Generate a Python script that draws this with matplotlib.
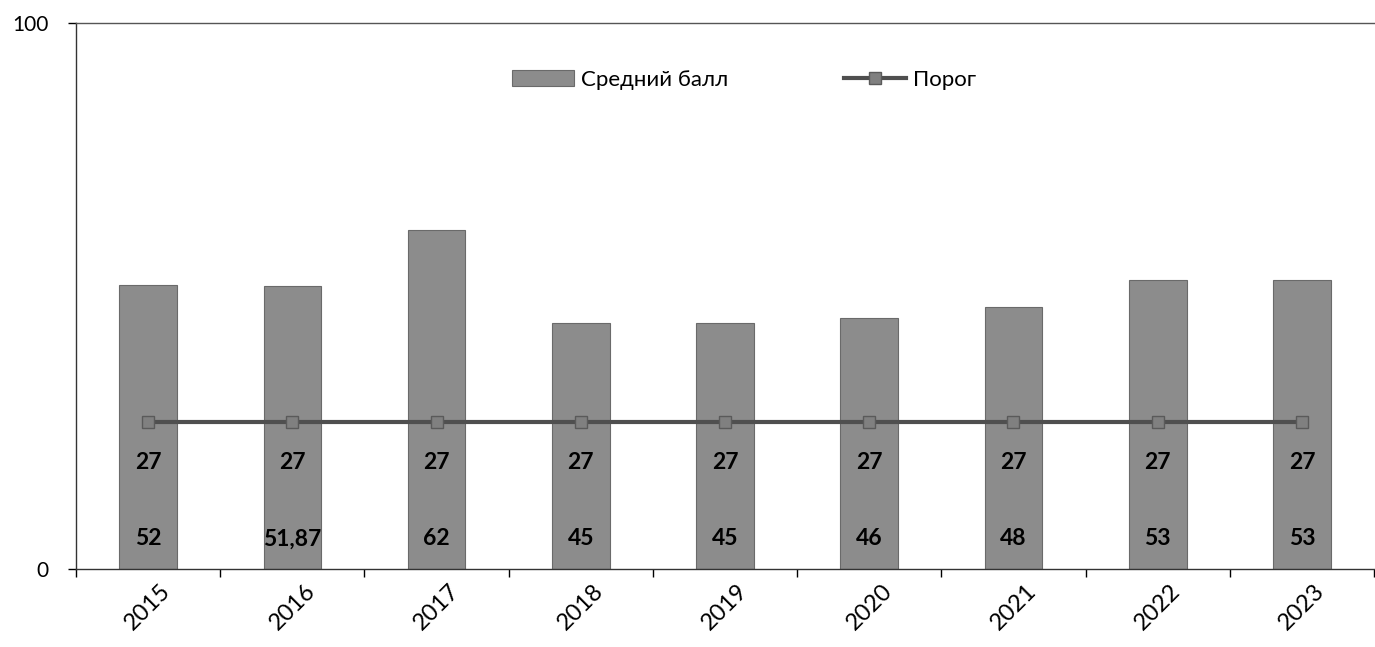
import matplotlib
matplotlib.use("Agg")
import matplotlib.pyplot as plt
import numpy as np

# data
years = ["2015", "2016", "2017", "2018", "2019", "2020", "2021", "2022", "2023"]
avg_score = [52, 51.87, 62, 45, 45, 46, 48, 53, 53]
avg_labels = ["52", "51,87", "62", "45", "45", "46", "48", "53", "53"]
threshold = [27, 27, 27, 27, 27, 27, 27, 27, 27]

plt.rcParams["font.family"] = ["Lato", "DejaVu Sans"]

fig = plt.figure(figsize=(13.75, 6.47), dpi=100)
ax = fig.add_axes([0.0553, 0.1206, 0.944, 0.8439])

x = np.arange(len(years))
bar_color = "#8c8c8c"
bars = ax.bar(x, avg_score, width=0.4, color=bar_color, edgecolor="#6a6a6a",
              linewidth=0.8, zorder=2, label="Средний балл")
line, = ax.plot(x, threshold, color="#4f4f4f", linewidth=3, marker="s",
                markersize=8, markerfacecolor="#808080",
                markeredgecolor="#5a5a5a", zorder=3, label="Порог")

# data labels, placed low inside the bars like in the original
for i in range(len(years)):
    ax.text(x[i], 19.5, str(threshold[i]), ha="center", va="center",
            fontsize=16.5, fontweight="bold", color="black", zorder=4)
    ax.text(x[i], 5.5, avg_labels[i], ha="center", va="center",
            fontsize=16.5, fontweight="bold", color="black", zorder=4)

ax.set_xlim(-0.5, len(years) - 0.5)
ax.set_ylim(0, 100)
ax.set_yticks([0, 100])
ax.set_yticklabels(["0", "100"], fontsize=15)
ax.tick_params(axis="y", direction="out", length=6, width=1, pad=14)

ax.set_xticks(x)
ax.set_xticklabels(years, fontsize=17, rotation=45, ha="center", va="top")
ax.tick_params(axis="x", which="major", length=0, pad=8)
ax.set_xticks(np.arange(-0.5, len(years), 1), minor=True)
ax.tick_params(axis="x", which="minor", direction="out", length=6, width=1)

for side in ("left", "bottom"):
    ax.spines[side].set_color("#333333")
    ax.spines[side].set_linewidth(1.0)
ax.spines["top"].set_color("#555555")
ax.spines["top"].set_linestyle((0, (2, 1)))
ax.spines["top"].set_linewidth(1.0)
ax.spines["right"].set_visible(False)

fig.legend(handles=[bars, line], labels=["Средний балл", "Порог"],
           loc="center", bbox_to_anchor=(0.541, 0.877), ncol=2,
           frameon=False, fontsize=16, columnspacing=5.2, handlelength=2.8,
           handletextpad=0.3)

fig.savefig("out.png", dpi=100)
plt.close(fig)
